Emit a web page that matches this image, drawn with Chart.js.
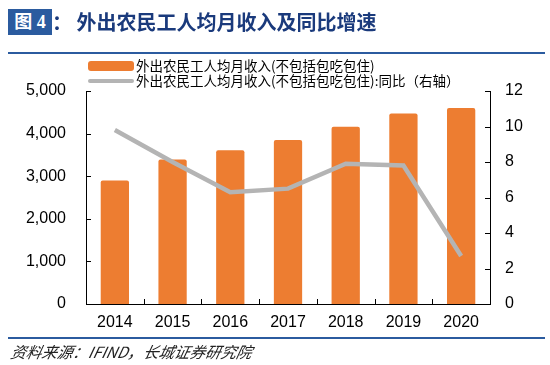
<!DOCTYPE html>
<html>
<head>
<meta charset="utf-8">
<script src="https://cdn.jsdelivr.net/npm/chart.js"></script>
<style>
  html, body { margin: 0; padding: 0; background: #fff; }
  #wrap { position: relative; width: 550px; height: 365px; overflow: hidden; }
  canvas { position: absolute; left: 0; top: 0; }
  .title { position: absolute; left: 8px; top: 9px; height: 27px; }
  .badge { position: absolute; left: 0; top: 0; width: 44px; height: 26px; background: #2B5B9F;
           color: #fff; font: bold 18px "Liberation Serif", "Noto Sans CJK SC", serif; line-height: 26px; text-align: center; }
  .ttext { position: absolute; left: 44px; top: -2px; white-space: nowrap; color: #1A3A7C;
           font: bold 20px "Noto Sans CJK SC", sans-serif; line-height: 30px; letter-spacing: 0px; }
  .rule { position: absolute; left: 8px; width: 537px; height: 2px; background: #2B5B9F; }
  .legend { position: absolute; left: 88px; font: 13.5px "Noto Sans CJK SC", "Liberation Sans", sans-serif; color: #000; white-space: nowrap; }
  .lg { position: absolute; height: 16px; line-height: 16px; }
  .sw1 { position: absolute; left: 0; top: 3px; width: 46px; height: 10px; background: #ED7D31; border-radius: 3px; }
  .sw2 { position: absolute; left: 0; top: 6px; width: 46px; height: 4px; background: #B4B4B4; border-radius: 2px; }
  .lt { position: absolute; left: 48px; top: -1px; }
  .source { position: absolute; left: 9px; top: 340px; font: italic 15.5px "Noto Sans CJK SC", "Liberation Serif", serif; color: #222; white-space: nowrap; transform: skewX(-12deg); transform-origin: left bottom; }
</style>
</head>
<body>
<div id="wrap">
  <canvas id="c" width="550" height="365"></canvas>
  <div class="title"><div class="badge">图 4</div><div class="ttext">：&nbsp;外出农民工人均月收入及同比增速</div></div>
  <div class="rule" style="top:52px"></div>
  <div class="legend" style="top:58px">
    <div class="lg" style="top:0"><div class="sw1"></div><div class="lt">外出农民工人均月收入(不包括包吃包住)</div></div>
    <div class="lg" style="top:15px"><div class="sw2"></div><div class="lt">外出农民工人均月收入(不包括包吃包住):同比（右轴）</div></div>
  </div>
  <div class="rule" style="top:337px"></div>
  <div class="source">资料来源：IFIND，长城证券研究院</div>
</div>
<script>
const categories = ["2014", "2015", "2016", "2017", "2018", "2019", "2020"];
const incomeValues = [2900, 3390, 3610, 3850, 4160, 4470, 4600];
const growthValues = [9.8, 8.0, 6.3, 6.5, 7.9, 7.8, 2.7];
const leftTicks = [0, 1000, 2000, 3000, 4000, 5000];
const rightTicks = [0, 2, 4, 6, 8, 10, 12];
const incomeLabel = "外出农民工人均月收入(不包括包吃包住)";
const growthLabel = "外出农民工人均月收入(不包括包吃包住):同比（右轴）";

const innerTicks = {
  id: 'innerTicks',
  afterDraw(chart) {
    const ctx = chart.ctx;
    const L = chart.scales.y, R = chart.scales.y1, X = chart.scales.x;
    ctx.save();
    ctx.strokeStyle = '#000';
    ctx.lineWidth = 1;
    ctx.beginPath();
    L.ticks.forEach(t => {
      const y = Math.round(L.getPixelForValue(t.value)) + 0.5;
      ctx.moveTo(L.right, y); ctx.lineTo(L.right + 5, y);
    });
    R.ticks.forEach(t => {
      const y = Math.round(R.getPixelForValue(t.value)) + 0.5;
      ctx.moveTo(R.left - 5, y); ctx.lineTo(R.left, y);
    });
    for (let i = 1; i < categories.length; i++) {
      const x = Math.round((X.getPixelForValue(i - 1) + X.getPixelForValue(i)) / 2) + 0.5;
      ctx.moveTo(x, X.top); ctx.lineTo(x, X.top - 5);
    }
    ctx.stroke();
    ctx.restore();
  }
};

new Chart(document.getElementById('c'), {
  data: {
    labels: categories,
    datasets: [
      { type: 'line', label: growthLabel, data: growthValues, yAxisID: 'y1',
        borderColor: '#B4B4B4', borderWidth: 4.5, pointRadius: 0, tension: 0, order: 0 },
      { type: 'bar', label: incomeLabel, data: incomeValues, yAxisID: 'y',
        backgroundColor: '#ED7D31', borderRadius: 2, borderSkipped: 'bottom',
        categoryPercentage: 1, barPercentage: 0.49, order: 1 }
    ]
  },
  options: {
    responsive: false,
    animation: false,
    layout: { padding: { top: 91, left: 0, right: 0, bottom: 0 } },
    plugins: { legend: { display: false }, tooltip: { enabled: false } },
    scales: {
      x: {
        grid: { display: false, drawTicks: false },
        border: { display: true, color: '#000', width: 1 },
        ticks: { color: '#000', font: { family: 'Liberation Sans', size: 16 }, padding: 9, maxRotation: 0 },
        afterFit(s) { s.height = 61; }
      },
      y: {
        position: 'left', min: 0, max: 5000,
        afterBuildTicks(s) { s.ticks = leftTicks.map(v => ({ value: v })); },
        grid: { display: false, drawTicks: false },
        border: { display: true, color: '#000', width: 1 },
        ticks: { color: '#000', font: { family: 'Liberation Sans', size: 16 }, padding: 20,
                 callback: v => v.toLocaleString('en-US') },
        afterFit(s) { s.width = 86; }
      },
      y1: {
        position: 'right', min: 0, max: 12,
        afterBuildTicks(s) { s.ticks = rightTicks.map(v => ({ value: v })); },
        grid: { display: false, drawTicks: false },
        border: { display: true, color: '#000', width: 1 },
        ticks: { color: '#000', font: { family: 'Liberation Sans', size: 16 }, padding: 15 },
        afterFit(s) { s.width = 60; }
      }
    }
  },
  plugins: [innerTicks]
});
</script>
</body>
</html>
